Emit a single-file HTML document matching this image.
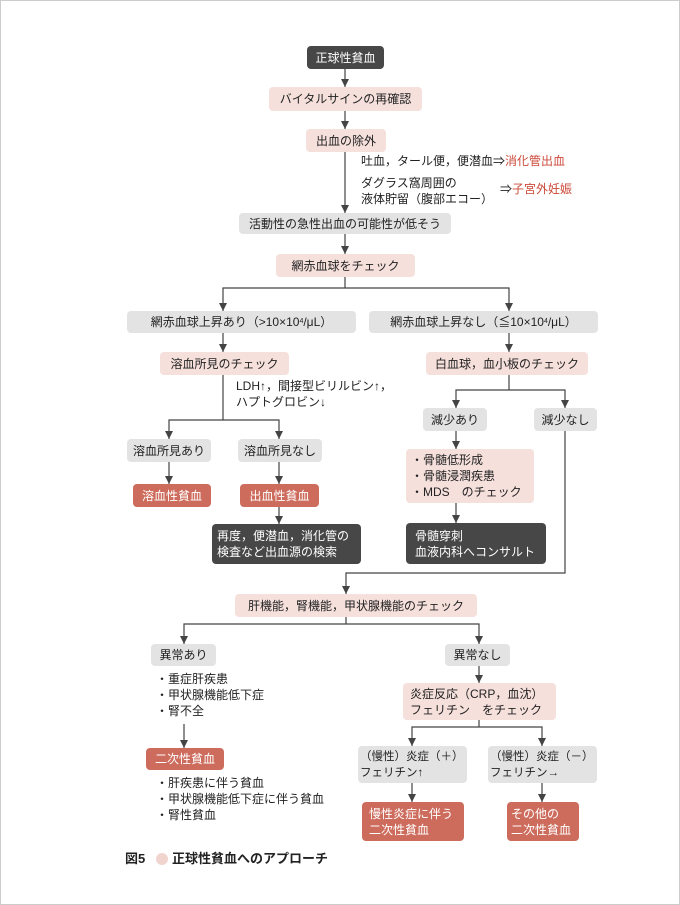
<!DOCTYPE html>
<html><head><meta charset="utf-8"><style>
body{margin:0;background:#fff}
#c{position:relative;width:678px;height:903px;border:1px solid #ccc;overflow:hidden;font-family:"Liberation Sans","Noto Sans CJK JP",sans-serif;font-size:12px;color:#222}
.b{position:absolute;border-radius:4px;box-sizing:border-box;display:flex;align-items:center;justify-content:center;line-height:16px;white-space:nowrap}
.d{background:#474747;color:#fff}
.p{background:#f5e0dc}
.g{background:#e3e3e3}
.r{background:#cd6c5d;color:#fff}
.l{justify-content:flex-start;padding-left:9px}
.t{position:absolute;line-height:16px;white-space:nowrap}
.red{color:#cc4a3a}
svg{position:absolute;left:0;top:0}
</style></head><body><div id="c">
<svg width="680" height="905" fill="none" stroke="#444" stroke-width="1.2">
<g>
<path d="M344 68V86"/><path d="M344 110V128"/><path d="M344 151V212"/><path d="M344 233V253"/>
<path d="M344 276V287H222V310M344 287H508V310"/>
<path d="M222 332V351"/><path d="M508 332V351"/>
<path d="M222 374V419H168V438M222 419H278V438"/>
<path d="M168 461V483"/><path d="M278 461V483"/><path d="M278 506V523"/>
<path d="M508 374V389H455V407M508 389H564V407"/>
<path d="M455 430V448"/><path d="M455 502V522"/>
<path d="M564 430V572H345V593"/>
<path d="M345 616V623H183V643M345 623H478V643"/>
<path d="M183 723V747"/><path d="M478 665V682"/>
<path d="M478 719V726H411V745M478 726H541V745"/>
<path d="M411 782V801"/><path d="M541 782V801"/>
</g>
<g fill="#444" stroke="none">
<path d="M340 78h8l-4 8z"/><path d="M340 120h8l-4 8z"/><path d="M340 204h8l-4 8z"/><path d="M340 245h8l-4 8z"/>
<path d="M218 302h8l-4 8z"/><path d="M504 302h8l-4 8z"/><path d="M218 343h8l-4 8z"/><path d="M504 343h8l-4 8z"/>
<path d="M164 430h8l-4 8z"/><path d="M274 430h8l-4 8z"/><path d="M164 475h8l-4 8z"/><path d="M274 475h8l-4 8z"/><path d="M274 515h8l-4 8z"/>
<path d="M451 399h8l-4 8z"/><path d="M560 399h8l-4 8z"/><path d="M451 440h8l-4 8z"/><path d="M451 514h8l-4 8z"/>
<path d="M341 585h8l-4 8z"/><path d="M179 635h8l-4 8z"/><path d="M474 635h8l-4 8z"/>
<path d="M179 739h8l-4 8z"/><path d="M474 674h8l-4 8z"/><path d="M407 737h8l-4 8z"/><path d="M537 737h8l-4 8z"/>
<path d="M407 793h8l-4 8z"/><path d="M537 793h8l-4 8z"/>
</g>
<circle cx="161" cy="858" r="6" fill="#f2d4cf" stroke="none"/>
</svg>
<div class="b d" style="left:306px;top:45px;width:77px;height:23px">正球性貧血</div>
<div class="b p" style="left:268px;top:86px;width:153px;height:24px">バイタルサインの再確認</div>
<div class="b p" style="left:305px;top:128px;width:80px;height:23px">出血の除外</div>
<div class="t" style="left:360px;top:152px">吐血，タール便，便潜血⇒<span class="red">消化管出血</span></div>
<div class="t" style="left:360px;top:174px">ダグラス窩周囲の<br>液体貯留（腹部エコー）</div>
<div class="t" style="left:499px;top:180px">⇒<span class="red">子宮外妊娠</span></div>
<div class="b g" style="left:238px;top:212px;width:212px;height:21px">活動性の急性出血の可能性が低そう</div>
<div class="b p" style="left:275px;top:253px;width:139px;height:23px">網赤血球をチェック</div>
<div class="b g" style="left:126px;top:310px;width:229px;height:22px">網赤血球上昇あり（&gt;10×10<sup style="font-size:7px">4</sup>/μL）</div>
<div class="b g" style="left:368px;top:310px;width:229px;height:22px">網赤血球上昇なし（≦10×10<sup style="font-size:7px">4</sup>/μL）</div>
<div class="b p" style="left:159px;top:351px;width:129px;height:23px">溶血所見のチェック</div>
<div class="b p" style="left:425px;top:351px;width:162px;height:23px">白血球，血小板のチェック</div>
<div class="t" style="left:235px;top:377px">LDH↑，間接型ビリルビン↑，<br>ハプトグロビン↓</div>
<div class="b g" style="left:126px;top:438px;width:84px;height:23px">溶血所見あり</div>
<div class="b g" style="left:237px;top:438px;width:84px;height:23px">溶血所見なし</div>
<div class="b r" style="left:132px;top:483px;width:78px;height:23px">溶血性貧血</div>
<div class="b r" style="left:239px;top:483px;width:79px;height:23px">出血性貧血</div>
<div class="b d l" style="left:211px;top:523px;width:149px;height:40px;padding-left:5px">再度，便潜血，消化管の<br>検査など出血源の検索</div>
<div class="b g" style="left:422px;top:407px;width:64px;height:23px">減少あり</div>
<div class="b g" style="left:533px;top:407px;width:63px;height:23px">減少なし</div>
<div class="b p l" style="left:405px;top:448px;width:128px;height:54px;padding-left:5px">・骨髄低形成<br>・骨髄浸潤疾患<br>・MDS　のチェック</div>
<div class="b d l" style="left:405px;top:522px;width:140px;height:41px">骨髄穿刺<br>血液内科へコンサルト</div>
<div class="b p" style="left:234px;top:593px;width:242px;height:23px">肝機能，腎機能，甲状腺機能のチェック</div>
<div class="b g" style="left:150px;top:643px;width:65px;height:22px">異常あり</div>
<div class="b g" style="left:444px;top:643px;width:65px;height:22px">異常なし</div>
<div class="t" style="left:155px;top:670px">・重症肝疾患<br>・甲状腺機能低下症<br>・腎不全</div>
<div class="b r" style="left:145px;top:747px;width:78px;height:22px">二次性貧血</div>
<div class="t" style="left:155px;top:774px">・肝疾患に伴う貧血<br>・甲状腺機能低下症に伴う貧血<br>・腎性貧血</div>
<div class="b p l" style="left:402px;top:682px;width:153px;height:37px;padding-left:7px">炎症反応（CRP，血沈）<br>フェリチン　をチェック</div>
<div class="b g l" style="left:357px;top:745px;width:109px;height:37px;padding-left:2px;font-size:11.5px">（慢性）炎症（＋）<br>フェリチン↑</div>
<div class="b g l" style="left:487px;top:745px;width:109px;height:37px;padding-left:2px;font-size:11.5px">（慢性）炎症（－）<br>フェリチン→</div>
<div class="b r l" style="left:361px;top:801px;width:102px;height:39px;padding-left:7px">慢性炎症に伴う<br>二次性貧血</div>
<div class="b r l" style="left:506px;top:801px;width:72px;height:39px;padding-left:4px">その他の<br>二次性貧血</div>
<div class="t" style="left:124px;top:850px;font-size:13px;font-weight:bold">図5</div>
<div class="t" style="left:171px;top:850px;font-size:13px;font-weight:bold">正球性貧血へのアプローチ</div>
</div></body></html>
